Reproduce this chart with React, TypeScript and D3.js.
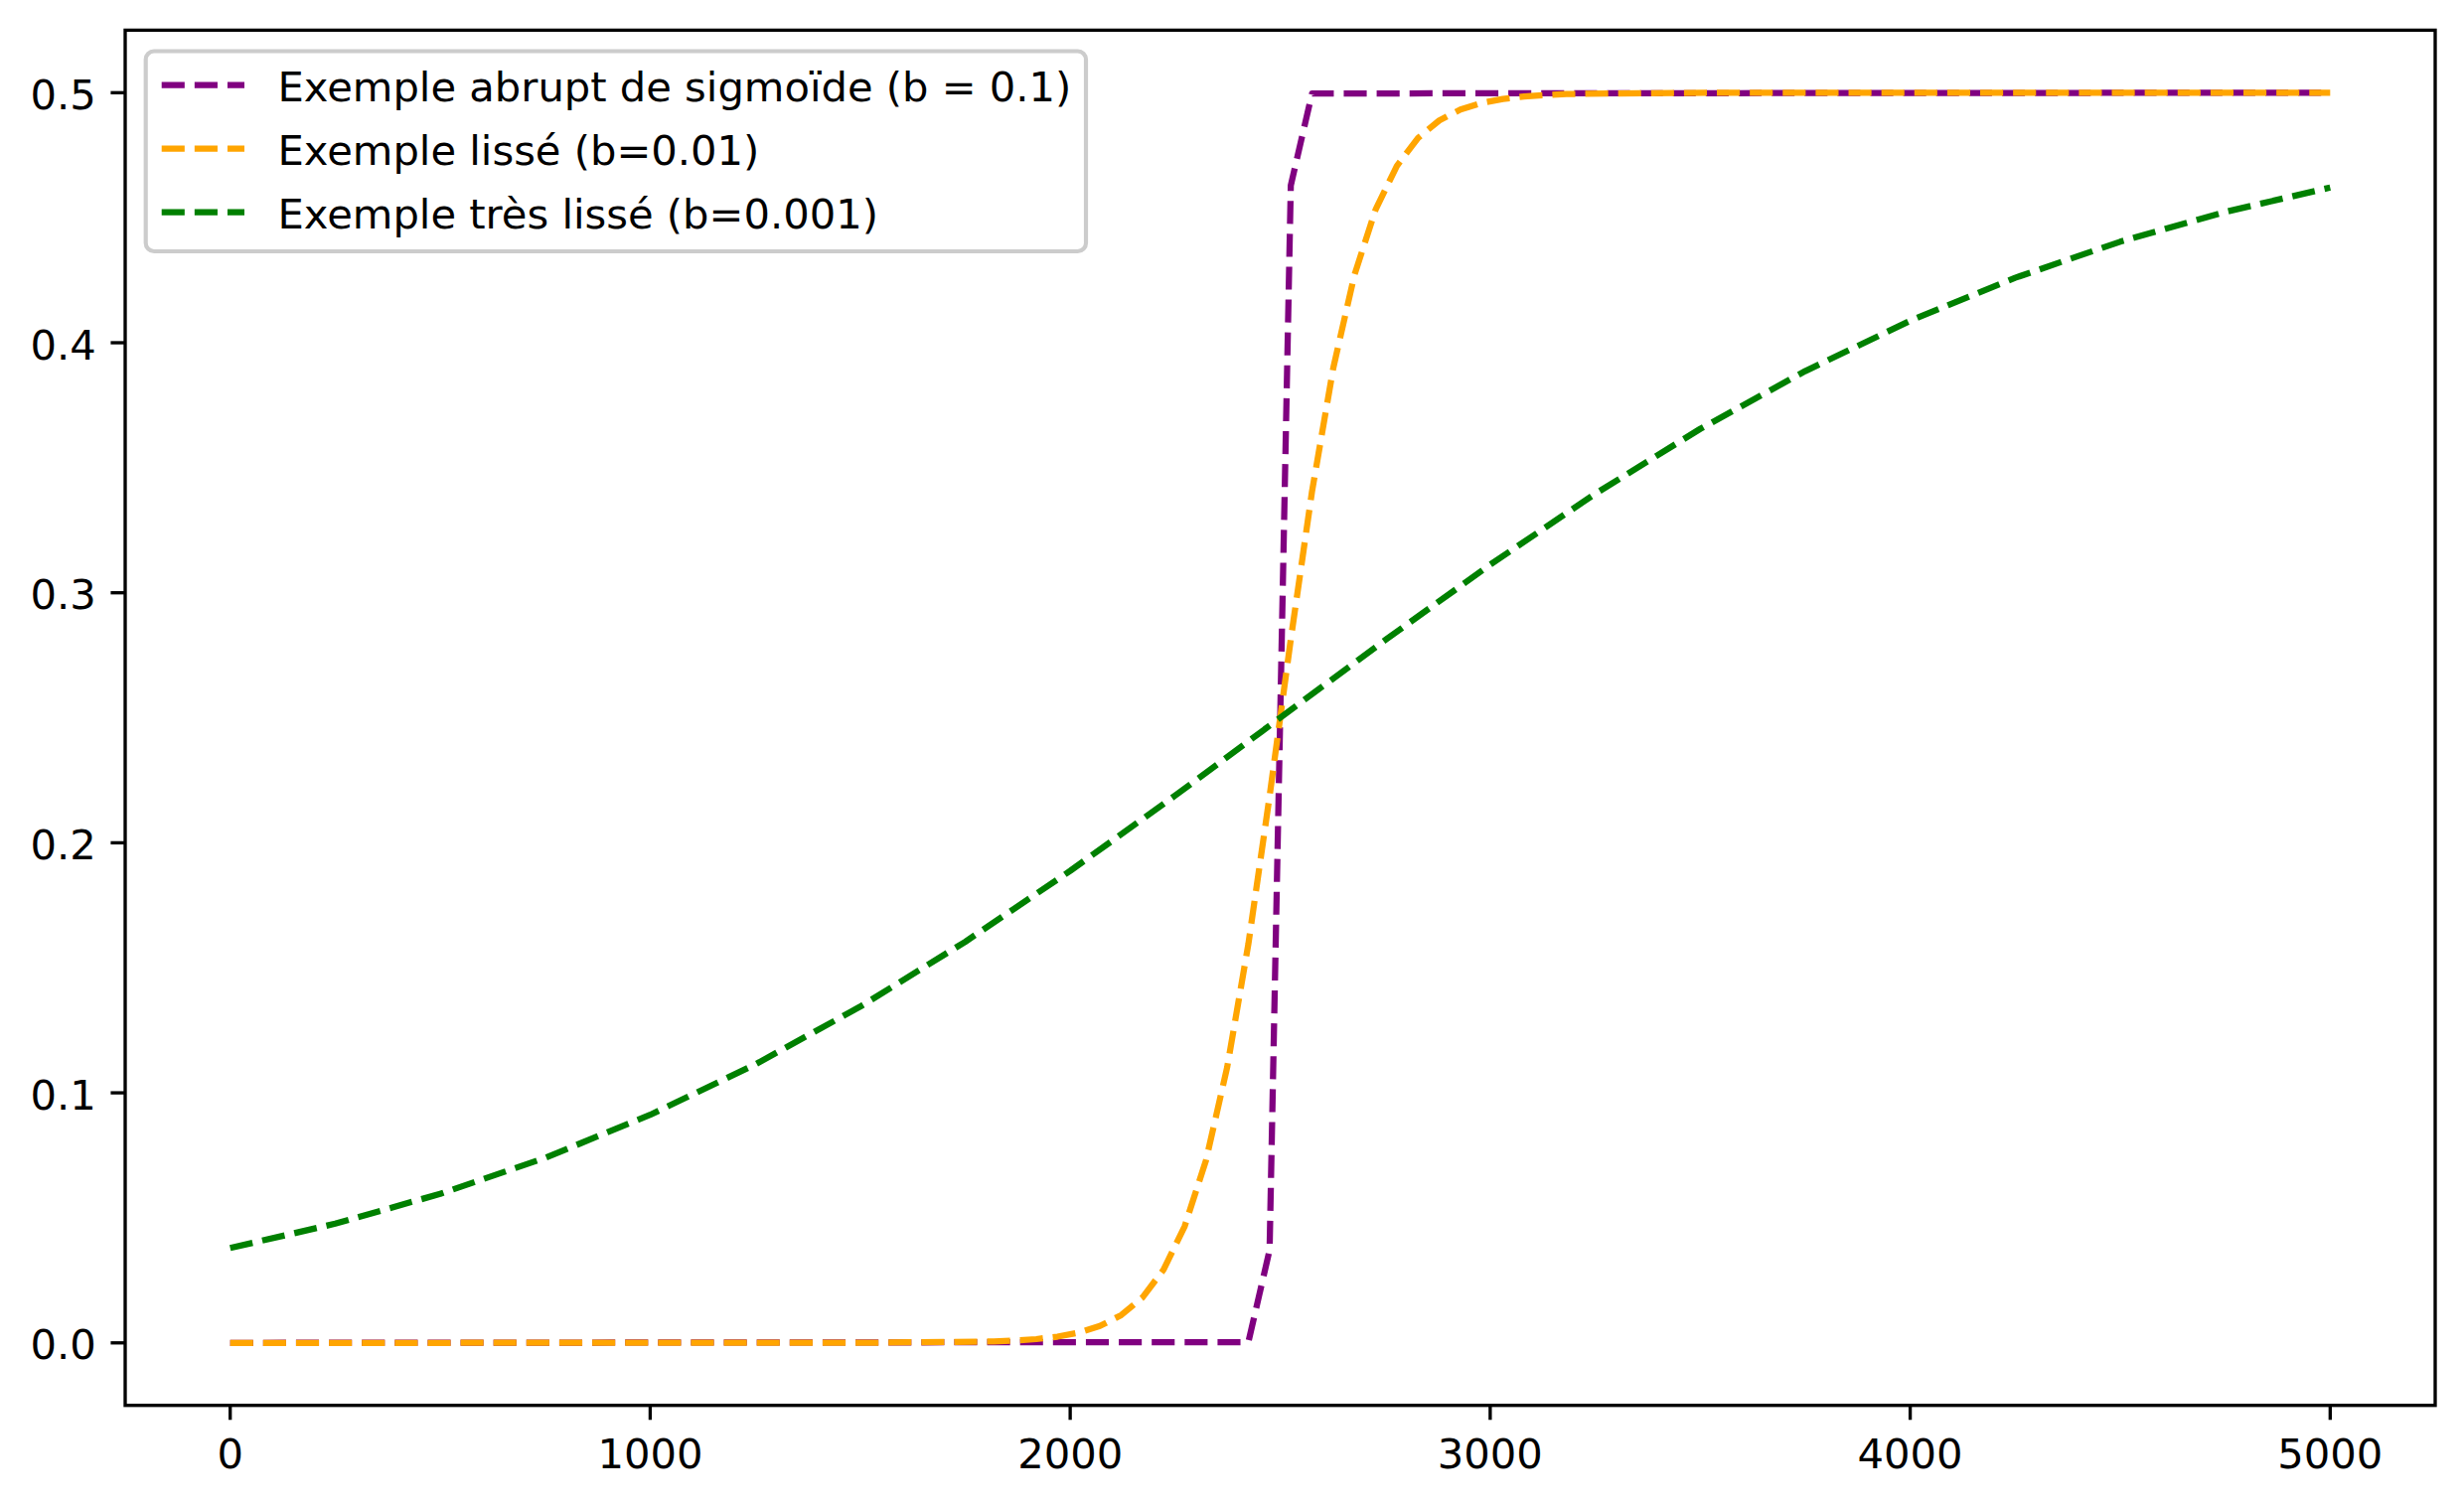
import React from "react";
import * as d3 from "d3";

// Data
const purpleX = [0, 2424.24, 2474.75, 2525.25, 2575.76, 5000];
const purpleY = [0, 0.0003, 0.0371, 0.4629, 0.4997, 0.5];

const orangeX = [0, 1515.15, 1818.18, 1868.69, 1919.19, 1969.7, 2020.2, 2070.71, 2121.21, 2171.72, 2222.22, 2272.73, 2323.23, 2373.74, 2424.24, 2474.75, 2525.25, 2575.76, 2626.26, 2676.77, 2727.27, 2777.78, 2828.28, 2878.79, 2929.29, 2979.8, 3030.3, 3080.81, 3131.31, 3181.82, 3535.35, 5000];
const orangeY = [0, 0.00003, 0.00055, 0.0009, 0.0015, 0.00248, 0.00409, 0.00674, 0.01107, 0.01808, 0.02926, 0.04669, 0.0729, 0.1102, 0.1595, 0.2186, 0.2814, 0.3405, 0.3898, 0.4271, 0.4533, 0.4707, 0.4819, 0.4889, 0.4933, 0.4959, 0.4975, 0.4985, 0.4991, 0.4995, 0.49998, 0.5];

const greenX = [0, 250, 500, 750, 1000, 1250, 1500, 1750, 2000, 2250, 2500, 2750, 3000, 3250, 3500, 3750, 4000, 4250, 4500, 4750, 5000];
const greenY = [0.03793, 0.04767, 0.0596, 0.07402, 0.09121, 0.11135, 0.13447, 0.16041, 0.18877, 0.21891, 0.25, 0.28109, 0.31123, 0.33959, 0.36553, 0.38865, 0.40879, 0.42598, 0.4404, 0.45233, 0.46207];

const seriesLabels = [
  "Exemple abrupt de sigmoïde (b = 0.1)",
  "Exemple lissé (b=0.01)",
  "Exemple très lissé (b=0.001)",
];
const seriesColors = ["#800080", "#FFA500", "#008000"];

const xTicks = [0, 1000, 2000, 3000, 4000, 5000];
const yTicks = [0.0, 0.1, 0.2, 0.3, 0.4, 0.5];

const W = 2480;
const H = 1517;
const PT = 300 / 72;
const FS = 10 * PT;
const LEFT = 126;
const RIGHT = 2451;
const TOP = 30.4;
const BOTTOM = 1414.7;

export default function App() {
  const x = d3.scaleLinear().domain([-250, 5250]).range([LEFT, RIGHT]);
  const y = d3.scaleLinear().domain([-0.025, 0.525]).range([BOTTOM, TOP]);
  const line = d3
    .line<[number, number]>()
    .x((d) => x(d[0]))
    .y((d) => y(d[1]));

  const series = [
    { xs: purpleX, ys: purpleY },
    { xs: orangeX, ys: orangeY },
    { xs: greenX, ys: greenY },
  ];

  const lw = 1.5 * PT;
  const dash = `${3.7 * lw} ${1.6 * lw}`;
  const tickLen = 3.5 * PT;
  const pad = 3.5 * PT;
  const spineW = 0.8 * PT;

  // legend layout
  const lgLeft = 146.7;
  const lgTop = 51.5;
  const lgRight = 1093;
  const lgBottom = 253;
  const firstRow = 85.7;
  const rowStep = 64;
  const hx0 = 162.7;
  const hx1 = 246;
  const tx = 279.5;

  return (
    <svg
      width={W}
      height={H}
      style={{ position: "absolute", left: 0, top: 0, display: "block" }}
      fontFamily="DejaVu Sans"
    >
      <rect x={0} y={0} width={W} height={H} fill="#fff" />
      <defs>
        <clipPath id="plotclip">
          <rect x={LEFT} y={TOP} width={RIGHT - LEFT} height={BOTTOM - TOP} />
        </clipPath>
      </defs>
      <g clipPath="url(#plotclip)">
        {series.map((s, i) => (
          <path
            key={i}
            d={line(s.xs.map((v, j) => [v, s.ys[j]] as [number, number])) || ""}
            fill="none"
            stroke={seriesColors[i]}
            strokeWidth={lw}
            strokeDasharray={dash}
            strokeLinejoin="round"
            strokeLinecap="butt"
          />
        ))}
      </g>
      {/* spines */}
      <rect
        x={LEFT}
        y={TOP}
        width={RIGHT - LEFT}
        height={BOTTOM - TOP}
        fill="none"
        stroke="#000"
        strokeWidth={spineW}
        strokeLinejoin="miter"
      />
      {/* x ticks */}
      {xTicks.map((t) => (
        <g key={"x" + t}>
          <line x1={x(t)} x2={x(t)} y1={BOTTOM} y2={BOTTOM + tickLen} stroke="#000" strokeWidth={spineW} />
          <text x={x(t)} y={1478} fontSize={FS} textAnchor="middle" fill="#000">
            {String(t)}
          </text>
        </g>
      ))}
      {/* y ticks */}
      {yTicks.map((t) => (
        <g key={"y" + t}>
          <line x1={LEFT - tickLen} x2={LEFT} y1={y(t)} y2={y(t)} stroke="#000" strokeWidth={spineW} />
          <text x={LEFT - tickLen - pad} y={y(t) + 16.5} fontSize={FS} textAnchor="end" fill="#000">
            {t.toFixed(1)}
          </text>
        </g>
      ))}
      {/* legend */}
      <rect
        x={lgLeft}
        y={lgTop}
        width={lgRight - lgLeft}
        height={lgBottom - lgTop}
        rx={0.2 * FS}
        ry={0.2 * FS}
        fill="#fff"
        fillOpacity={0.8}
        stroke="#cccccc"
        strokeWidth={1.0 * PT}
      />
      {seriesLabels.map((lab, i) => {
        const cy = firstRow + i * rowStep;
        return (
          <g key={lab}>
            <line x1={hx0} x2={hx1} y1={cy} y2={cy} stroke={seriesColors[i]} strokeWidth={lw} strokeDasharray={dash} />
            <text x={tx} y={cy + 16} fontSize={FS} fill="#000">
              {lab}
            </text>
          </g>
        );
      })}
    </svg>
  );
}
